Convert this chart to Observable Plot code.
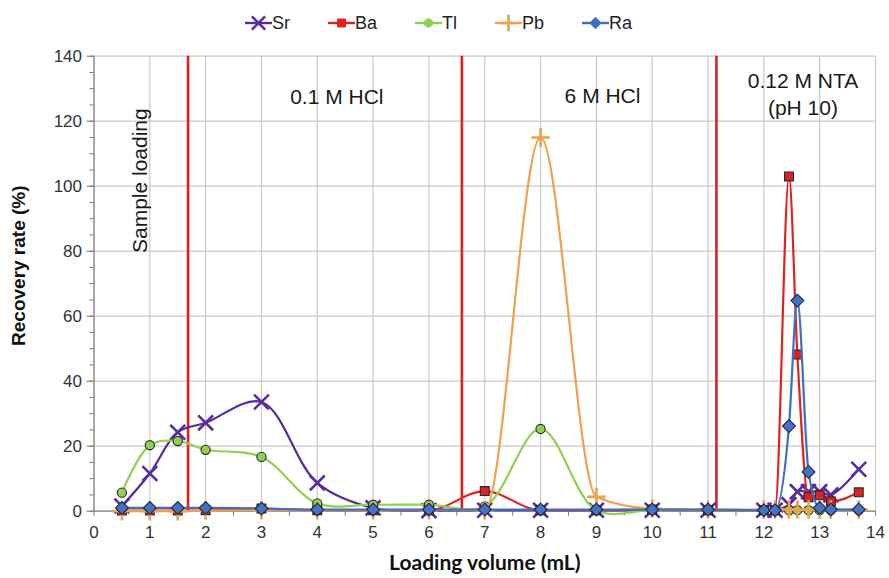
<!DOCTYPE html>
<html><head><meta charset="utf-8">
<script src="https://cdn.jsdelivr.net/npm/d3@7"></script>
<script src="https://cdn.jsdelivr.net/npm/@observablehq/plot@0.6"></script>
<style>
body{margin:0;background:#fff;font-family:"Liberation Sans",Arial,sans-serif;}
#legend{height:40px;width:889px;display:flex;justify-content:center;align-items:center;gap:38px;box-sizing:border-box;padding-right:12px;padding-top:6px;}
.item{display:flex;align-items:center;font-size:18px;color:#222;}
.item svg{display:block;}
</style></head><body>
<div id="legend"></div>
<div id="chart"></div>
<script>
// Loading volume (mL) of each collected fraction
const volumes = [0.5, 1, 1.5, 2, 3, 4, 5, 6, 7, 8, 9, 10, 11, 12, 12.2, 12.45, 12.6, 12.8, 13.0, 13.2, 13.7];
// Recovery rate (%) per element
const sr = [1.6, 11.6, 24.3, 27.2, 33.6, 8.7, 1.0, 0.2, 0.3, 0.3, 0.3, 0.3, 0.3, 0.3, 0.3, 2.0, 6.0, 6.0, 6.0, 5.0, 12.9];
const ba = [0.2, 0.2, 0.2, 0.3, 0.8, 0.3, 0.3, 0.3, 6.2, 0.3, 0.3, 0.5, 0.3, 0.3, 0.3, 103.0, 48.2, 4.3, 4.9, 3.0, 5.8];
const tl = [5.7, 20.3, 21.6, 18.9, 16.7, 2.4, 2.0, 2.0, 1.5, 25.3, 0.3, 0.3, 0.3, 0.3, 0.3, 0.3, 0.3, 0.3, 0.3, 0.3, 0.3];
const pb = [0.0, 0.0, 0.0, 0.2, 0.3, 0.3, 0.3, 0.3, 0.3, 115.0, 4.4, 0.8, 0.5, 0.5, 0.5, 0.5, 0.5, 0.5, 0.5, 0.5, 0.5];
const ra = [1.0, 1.0, 1.0, 1.0, 0.8, 0.5, 0.5, 0.5, 0.5, 0.5, 0.5, 0.5, 0.5, 0.3, 0.3, 26.2, 64.8, 12.1, 1.0, 0.5, 0.5];

const seriesNames = ["Sr", "Ba", "Tl", "Pb", "Ra"];
const seriesValues = [sr, ba, tl, pb, ra];
const seriesColors = ["#5a2a9e", "#e3211c", "#92d050", "#f0a04b", "#3f6fc4"];
const seriesFills = ["none", "#e3211c", "#92d050", "none", "#4472c4"];
const seriesSymbols = ["times", "square", "circle", "plus", "diamond2"];
const seriesCurves = ["catmull-rom", "monotone-x", "catmull-rom", "monotone-x", "monotone-x"];

// eluent change positions (mL)
const eluentChanges = [1.685, 6.59, 11.15];
// phase labels
const phaseLabels = ["0.1 M HCl", "6 M HCl", "0.12 M NTA\n(pH 10)"];
const phaseLabelX = [4.35, 9.11, 12.7];
const phaseLabelY = [127.8, 128.3, 128.6];
const sampleLabel = ["Sample loading"];
const sampleLabelX = [0.83];
const sampleLabelY = [101.7];

const xTicks = d3.range(0, 15, 1);
const xMinor = d3.range(0, 14.01, 0.5);
const yTicks = d3.range(0, 141, 20);
const yMinor = d3.range(0, 141, 5);

const rows = [];
seriesNames.forEach((s, i) => volumes.forEach((v, j) => rows.push({series: s, x: v, y: seriesValues[i][j]})));

function symbolStyle(i) {
  const sym = seriesSymbols[i];
  const stroked = (sym === "times" || sym === "plus");
  return {
    symbol: sym,
    r: sym === "times" ? 6.8 : sym === "plus" ? 6 : sym === "circle" ? 4.6 : sym === "square" ? 5 : 5.8,
    fill: stroked ? "none" : seriesFills[i],
    stroke: stroked ? seriesColors[i] : "#1e2a3a",
    strokeWidth: stroked ? 2.6 : 1.1
  };
}

const seriesMarks = seriesNames.flatMap((s, i) => {
  const d = rows.filter(r => r.series === s);
  const st = symbolStyle(i);
  return [
    Plot.line(d, {x: "x", y: "y", stroke: seriesColors[i], strokeWidth: 2.2, curve: seriesCurves[i]}),
    Plot.dot(d, {x: "x", y: "y", symbol: st.symbol, r: st.r, fill: st.fill, stroke: st.stroke, strokeWidth: st.strokeWidth})
  ];
});

const chart = Plot.plot({
  width: 889,
  height: 538,
  marginLeft: 93.5,
  marginRight: 14,
  marginTop: 15.7,
  marginBottom: 67.3,
  style: {fontFamily: "'Liberation Sans', Arial, sans-serif", background: "#fff"},
  x: {domain: [0, 14]},
  y: {domain: [0, 140]},
  marks: [
    Plot.gridX(xTicks.filter(d => d > 0), {stroke: "#c9c9c9", strokeOpacity: 1, strokeWidth: 1.2}),
    Plot.gridY(yTicks.filter(d => d > 0), {stroke: "#c9c9c9", strokeOpacity: 1, strokeWidth: 1.2}),
    Plot.ruleX(eluentChanges, {stroke: "#e0201b", strokeWidth: 2.6}),
    Plot.axisY(yTicks, {tickSize: 7, tickPadding: 5, fontSize: 17, fill: "#333", stroke: "#777", label: null}),
    Plot.axisY(yMinor, {tickSize: 4, text: null, stroke: "#777", label: null}),
    Plot.axisX(xTicks, {tickSize: 0, tickPadding: 15, fontSize: 17, fill: "#333", label: null}),
    Plot.axisX(xMinor, {tickSize: 5, text: null, stroke: "#777", label: null}),
    Plot.ruleX([0], {stroke: "#777", strokeWidth: 1.3}),
    Plot.ruleY([0], {stroke: "#777", strokeWidth: 1.3}),
    ...seriesMarks,
    Plot.text(phaseLabels, {x: (d, i) => phaseLabelX[i], y: (d, i) => phaseLabelY[i], text: d => d, fontSize: 21, fill: "#1a1a1a", lineHeight: 1.28}),
    Plot.text(sampleLabel, {x: (d, i) => sampleLabelX[i], y: (d, i) => sampleLabelY[i], text: d => d, fontSize: 21, fill: "#1a1a1a", rotate: -90}),
    Plot.text(["Loading volume (mL)"], {frameAnchor: "bottom", dy: 59, textAnchor: "middle", fontSize: 21, fontWeight: "bold", fontFamily: "Lato, 'Open Sans', sans-serif", fill: "#111"}),
    Plot.text(["Recovery rate (%)"], {frameAnchor: "left", dx: -75, dy: -18, textAnchor: "middle", rotate: -90, fontSize: 19, fontWeight: "bold", fill: "#111"})
  ]
});
document.getElementById("chart").appendChild(chart);

// legend
const legend = d3.select("#legend");
seriesNames.forEach((s, i) => {
  const st = symbolStyle(i);
  const item = legend.append("div").attr("class", "item");
  const svg = item.append("svg").attr("width", 27).attr("height", 20);
  svg.append("line").attr("x1", 0).attr("x2", 27).attr("y1", 10).attr("y2", 10)
    .attr("stroke", seriesColors[i]).attr("stroke-width", 2.4);
  const symMap = {times: d3.symbolTimes, square: d3.symbolSquare, circle: d3.symbolCircle, plus: d3.symbolPlus, diamond2: d3.symbolDiamond2};
  const size = Math.PI * st.r * st.r * 0.8;
  svg.append("path").attr("transform", "translate(13.5,10)")
    .attr("d", d3.symbol(symMap[st.symbol], size)())
    .attr("fill", st.symbol === "times" || st.symbol === "plus" ? "none" : seriesColors[i])
    .attr("stroke", seriesColors[i]).attr("stroke-width", st.symbol === "times" || st.symbol === "plus" ? 2.6 : 1);
  item.append("span").text(s);
});
</script>
</body></html>
